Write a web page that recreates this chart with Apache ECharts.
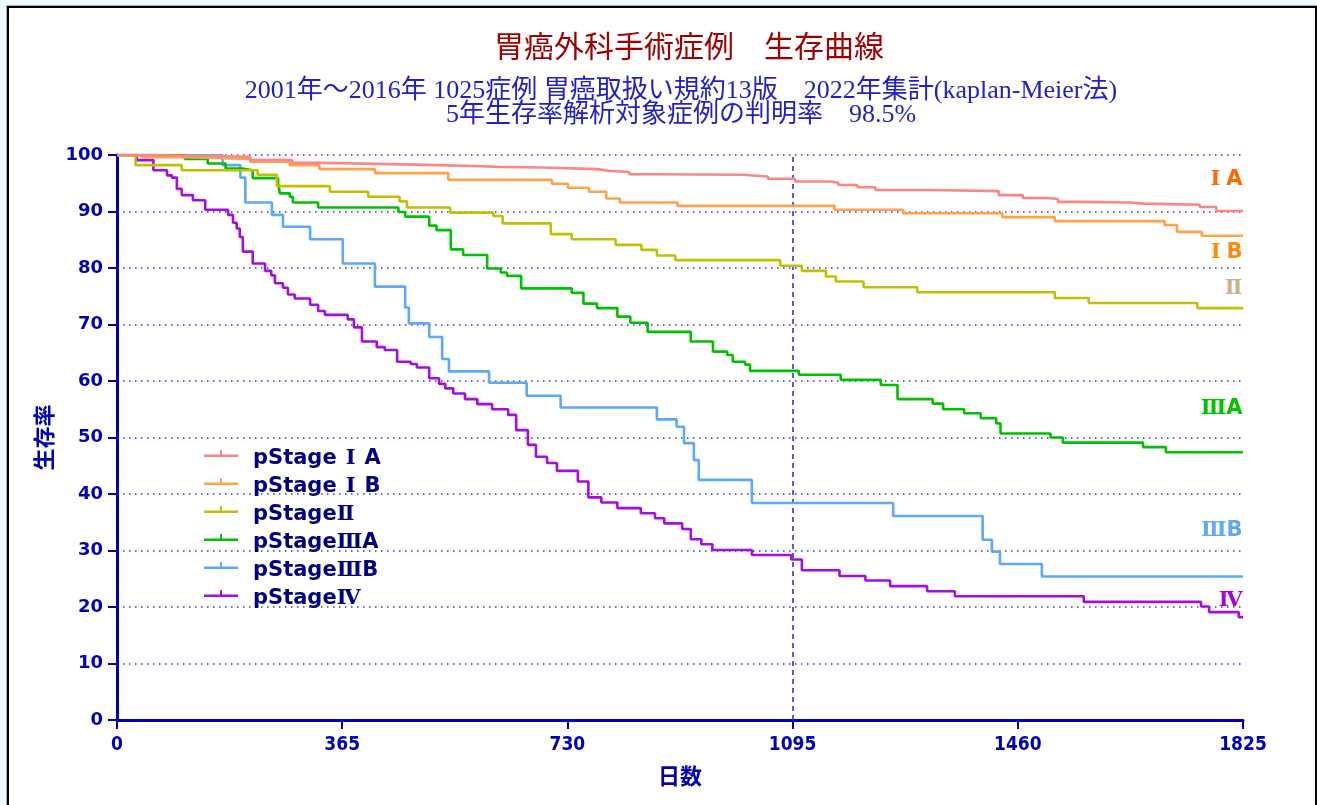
<!DOCTYPE html>
<html>
<head>
<meta charset="utf-8">
<script src="https://cdn.jsdelivr.net/npm/echarts@6/dist/echarts.min.js"></script>
<style>
html,body{margin:0;padding:0;background:#eef8ff;overflow:hidden;}
#box{position:absolute;left:7px;top:6px;width:1306px;height:820px;background:#fff;border:2px solid #000;box-shadow:0 0 0 1px #a8b4c0;}
#chart{position:absolute;left:0;top:0;width:1317px;height:805px;}
</style>
</head>
<body>
<div id="box"></div>
<div id="chart"></div>
<script>
const xTicks = [0, 365, 730, 1095, 1460, 1825];
const stageNames = ['pStageⅠA', 'pStageⅠB', 'pStageⅡ', 'pStageⅢA', 'pStageⅢB', 'pStageⅣ'];
const stageRoman = ['Ⅰ', 'Ⅰ', 'Ⅱ', 'Ⅲ', 'Ⅲ', 'Ⅳ'];
const stageLetter = ['A', 'B', '', 'A', 'B', ''];
const endLabelY = [95.6, 82.7, 76.3, 55.2, 33.5, 21.1];

const stageIA = [[0,100],[40,99.7],[216,99.1],[284,98.6],[331,98.3],[486,98.0],[592,97.9],[617,97.8],[689,97.5],[780,97.2],[795,97.0],[830,96.6],[870,96.5],[1013,96.2],[1055,95.8],[1099,95.3],[1156,95.1],[1169,94.7],[1200,94.3],[1229,93.8],[1318,93.6],[1429,92.9],[1468,92.4],[1507,92.2],[1525,91.7],[1565,91.6],[1642,91.4],[1664,91.2],[1755,90.8],[1782,90.1],[1825,90.1]];
const stageIB = [[0,100],[40,99.6],[113,99.3],[216,98.8],[280,98.2],[328,97.5],[418,96.8],[537,95.6],[705,94.9],[731,94.2],[765,93.5],[793,92.3],[815,91.6],[908,91.0],[1163,90.3],[1274,89.7],[1435,89.0],[1520,88.3],[1698,87.6],[1718,86.4],[1758,85.7],[1825,85.7]];
const stageII = [[0,100],[30,98.2],[105,97.3],[228,96.5],[259,94.5],[345,93.5],[407,92.6],[458,91.8],[470,90.7],[540,89.8],[610,89.2],[625,87.9],[703,86.0],[737,85.1],[808,84.1],[850,83.2],[875,82.2],[905,81.4],[1075,80.4],[1110,79.5],[1149,78.5],[1165,77.6],[1210,76.6],[1297,75.7],[1520,74.7],[1575,73.8],[1751,72.9],[1825,72.9]];
const stageIIIA = [[0,100],[110,99.3],[147,98.5],[176,97.6],[203,97.3],[220,95.9],[261,95.0],[264,93.2],[280,92.6],[285,91.6],[326,90.7],[456,89.9],[467,89.1],[506,87.5],[518,86.7],[541,83.3],[561,82.3],[600,79.9],[622,79.2],[632,78.6],[655,76.4],[737,75.6],[756,73.7],[778,72.9],[811,71.4],[832,70.3],[860,68.7],[930,67.0],[966,65.2],[989,64.6],[998,63.4],[1018,62.9],[1026,61.8],[1105,61.1],[1173,60.2],[1238,59.3],[1265,56.8],[1322,56.0],[1339,55.0],[1373,54.3],[1400,53.4],[1425,52.5],[1432,50.7],[1513,50.0],[1533,49.1],[1663,48.3],[1700,47.4],[1825,47.4]];
const stageIIIB = [[0,100],[171,98.2],[200,96.0],[208,91.6],[251,89.4],[269,87.3],[313,85.1],[366,80.8],[418,76.7],[467,73.0],[473,70.2],[506,67.8],[527,63.9],[538,61.7],[603,59.7],[664,57.4],[719,55.3],[875,53.2],[907,51.9],[919,49.0],[935,46.0],[943,42.5],[1029,38.4],[1258,36.1],[1403,31.9],[1418,29.8],[1431,27.6],[1499,25.4],[1825,25.4]];
const stageIV = [[0,100],[32,99.1],[59,97.3],[81,96.4],[89,96.0],[97,94.0],[105,92.9],[123,92.0],[143,90.3],[180,89.4],[188,88.0],[194,87.0],[199,85.5],[204,82.9],[220,80.8],[240,79.5],[250,78.7],[256,77.3],[269,76.5],[277,75.3],[288,74.6],[313,73.5],[326,72.4],[337,71.7],[374,70.9],[384,69.5],[397,67.0],[421,66.0],[434,65.5],[454,63.4],[476,63.0],[486,62.4],[506,60.5],[522,59.5],[532,58.7],[545,57.8],[564,56.8],[584,55.9],[608,55.0],[634,54.0],[647,51.3],[666,48.7],[679,46.6],[697,45.5],[713,44.1],[747,42.2],[764,39.4],[785,38.5],[811,37.5],[849,36.6],[872,35.7],[887,34.8],[916,33.8],[930,32.0],[947,31.1],[965,30.1],[1029,29.2],[1093,28.4],[1110,26.5],[1171,25.5],[1213,24.7],[1253,23.7],[1313,22.8],[1358,21.9],[1567,20.9],[1757,20.1],[1770,19.1],[1818,18.2],[1825,18.2]];

const stageData = [stageIA, stageIB, stageII, stageIIIA, stageIIIB, stageIV];
const lineColors = ['#ff8585', '#ffa24a', '#c2c000', '#00c000', '#5ea8fa', '#a40ee0'];
const labelColors = ['#ff6a00', '#ff8a10', '#c4b486', '#00c400', '#62a8f2', '#a800e0'];

const NAVY = '#0000b4';
const ROMAN_FONT = 'DejaVu Serif, Liberation Serif, Noto Sans CJK JP';
const legendIcon = 'path://M0,4.5L34,4.5L34,7L0,7Z M16,0L18,0L18,4.5L16,4.5Z M0,17L0.01,17Z';

function romanStyleKey(i) { return stageRoman[i] === 'Ⅰ' ? 'r1' : 'r'; }

function endLabelRich(color) {
  return {
    r: { color: color, fontSize: 21, fontWeight: 'bold', fontFamily: ROMAN_FONT },
    r1: { color: color, fontSize: 21, fontWeight: 'bold', fontFamily: ROMAN_FONT, padding: [0, 6, 0, 0] },
    l: { color: color, fontSize: 21, fontWeight: 'bold', fontFamily: 'DejaVu Sans' }
  };
}

const series = stageData.map((d, i) => ({
  name: stageNames[i],
  type: 'line',
  step: 'end',
  data: d,
  showSymbol: false,
  symbol: 'none',
  color: lineColors[i],
  lineStyle: { color: lineColors[i], width: 2.6 },
  itemStyle: { color: lineColors[i] },
  z: 10 - i,
  animation: false,
  markPoint: {
    silent: true,
    symbol: 'rect',
    symbolSize: 1,
    itemStyle: { color: 'rgba(0,0,0,0)' },
    label: {
      show: true, position: 'left', distance: 0,
      formatter: '{' + romanStyleKey(i) + '|' + stageRoman[i] + '}' + (stageLetter[i] ? '{l|' + stageLetter[i] + '}' : ''),
      rich: endLabelRich(labelColors[i])
    },
    data: [{ coord: [1825, endLabelY[i]] }]
  },
  markLine: i === 0 ? {
    silent: true, symbol: 'none', animation: false,
    label: { show: false },
    lineStyle: { color: '#2424d0', width: 1.5, type: [5, 4] },
    data: [{ xAxis: 1095 }]
  } : undefined
}));

const chart = echarts.init(document.getElementById('chart'));
chart.setOption({
  animation: false,
  backgroundColor: 'transparent',
  title: [
    {
      text: '胃癌外科手術症例　生存曲線',
      left: 684, top: 26, textAlign: 'center',
      textStyle: { color: '#a00000', fontSize: 30, fontWeight: 'normal', fontFamily: 'Noto Sans CJK JP' }
    },
    {
      text: '2001年～2016年 1025症例 胃癌取扱い規約13版　2022年集計(kaplan-Meier法)\n5年生存率解析対象症例の判明率　98.5%',
      left: 676, top: 74, textAlign: 'center',
      textStyle: { color: '#2222c4', fontSize: 26, lineHeight: 24, fontWeight: 'normal', fontFamily: 'Liberation Serif, Noto Sans CJK JP', align: 'center' }
    }
  ],
  legend: {
    orient: 'vertical',
    left: 199, top: 443,
    itemWidth: 34, itemHeight: 17, itemGap: 7,
    icon: legendIcon,
    itemStyle: { borderWidth: 0 },
    formatter: function (name) {
      const i = stageNames.indexOf(name);
      return '{a|pStage}{' + (stageRoman[i] === 'Ⅰ' ? 'b1' : 'b') + '|' + stageRoman[i] + '}' + (stageLetter[i] ? '{a|' + stageLetter[i] + '}' : '');
    },
    textStyle: {
      color: '#000080', fontSize: 21, fontWeight: 'bold', padding: [0, 0, 0, 10],
      rich: {
        a: { color: '#000080', fontSize: 21, fontWeight: 'bold', fontFamily: 'DejaVu Sans', lineHeight: 20 },
        b: { color: '#000080', fontSize: 21, fontWeight: 'bold', fontFamily: ROMAN_FONT, lineHeight: 20 },
        b1: { color: '#000080', fontSize: 21, fontWeight: 'bold', fontFamily: ROMAN_FONT, lineHeight: 20, padding: [0, 9, 0, 9] }
      }
    },
    data: stageNames
  },
  grid: { left: 117, right: 74, top: 155, bottom: 85, containLabel: false },
  xAxis: {
    type: 'value', min: 0, max: 1825, interval: 365,
    name: '日数', nameLocation: 'middle', nameGap: 45,
    nameTextStyle: { color: NAVY, fontSize: 22, fontWeight: 'bold', fontFamily: 'Noto Sans CJK JP' },
    axisLine: { show: true, lineStyle: { color: NAVY, width: 3 } },
    axisTick: { show: true, length: 9, lineStyle: { color: NAVY, width: 2 } },
    axisLabel: { color: NAVY, fontSize: 19, fontWeight: 'bold', margin: 16, fontFamily: 'Liberation Sans Narrow, DejaVu Sans Condensed, Liberation Sans',
      formatter: v => xTicks.includes(v) ? String(v) : '' },
    splitLine: { show: false }
  },
  yAxis: {
    type: 'value', min: 0, max: 100, interval: 10,
    name: '生存率', nameLocation: 'middle', nameGap: 52, nameRotate: 90,
    nameTextStyle: { color: NAVY, fontSize: 22, fontWeight: 'bold', fontFamily: 'Noto Sans CJK JP' },
    axisLine: { show: true, lineStyle: { color: NAVY, width: 3 } },
    axisTick: { show: true, length: 9, lineStyle: { color: NAVY, width: 2 } },
    axisLabel: { color: NAVY, fontSize: 18, fontWeight: 'bold', margin: 14, fontFamily: 'DejaVu Sans' },
    splitLine: { show: true, lineStyle: { color: '#3434d4', width: 1.5, type: [1.5, 4.5] } }
  },
  series: series
});
</script>
</body>
</html>
